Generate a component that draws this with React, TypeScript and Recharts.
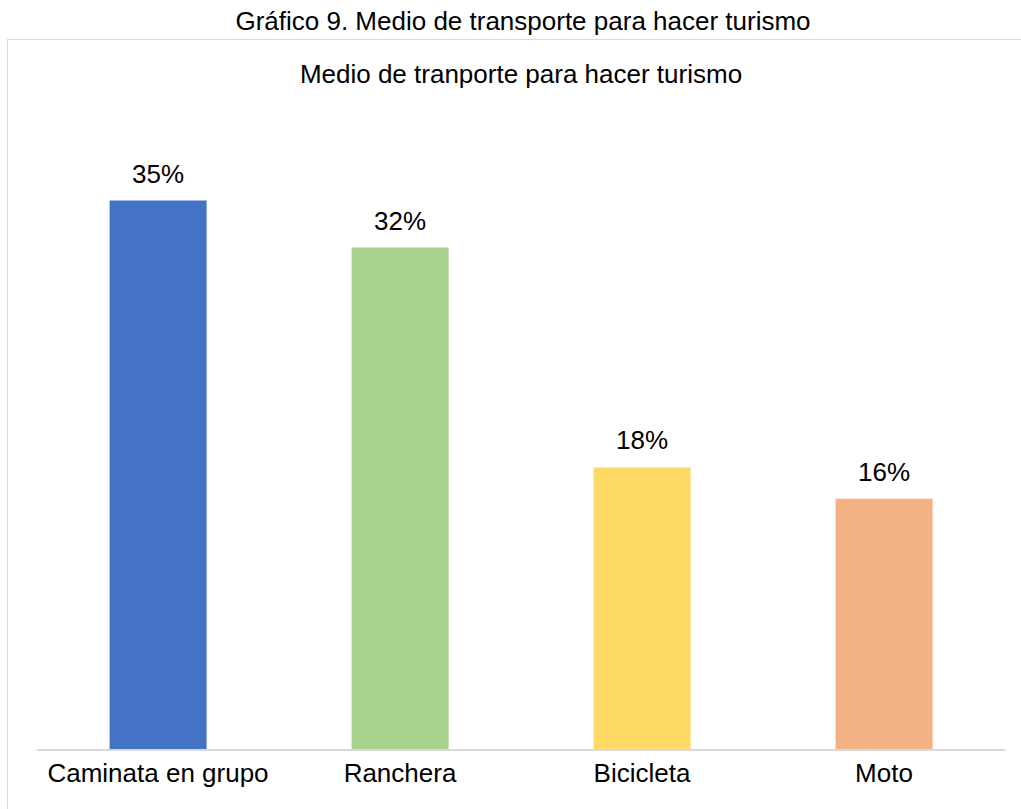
import { BarChart, Bar, XAxis, YAxis, Cell, LabelList } from "recharts"

const categories = ["Caminata en grupo", "Ranchera", "Bicicleta", "Moto"]
const percentages = [35, 32, 18, 16]
const barColors = ["#4472C4", "#A9D18E", "#FFD966", "#F4B183"]

const data = categories.map((name, i) => ({ name, value: percentages[i] }))

const font = "'Liberation Sans', Arial, sans-serif"

export default function App() {
  return (
    <div
      style={{
        position: "absolute",
        left: 0,
        top: 0,
        width: 1021,
        height: 809,
        overflow: "hidden",
        background: "#fff",
        fontFamily: font,
      }}
    >
      <div
        style={{
          position: "absolute",
          left: 0,
          top: 6,
          width: 1046,
          textAlign: "center",
          fontSize: 26,
          color: "#000",
        }}
      >
        Gráfico 9. Medio de transporte para hacer turismo
      </div>
      <div
        style={{
          position: "absolute",
          left: 7,
          top: 39,
          width: 1030,
          height: 800,
          border: "1.5px solid #d9d9d9",
          boxSizing: "border-box",
        }}
      />
      <div
        style={{
          position: "absolute",
          left: 0,
          top: 59,
          width: 1042,
          textAlign: "center",
          fontSize: 26,
          color: "#000",
        }}
      >
        Medio de tranporte para hacer turismo
      </div>
      <div style={{ position: "absolute", left: 0, top: 0 }}>
        <BarChart
          width={1021}
          height={809}
          data={data}
          margin={{ top: 122, right: 16, bottom: 0, left: 37 }}
          barCategoryGap="30%"
        >
          <XAxis
            dataKey="name"
            axisLine={{ stroke: "#d9d9d9", strokeWidth: 2 }}
            tickLine={false}
            tickSize={6}
            tickMargin={8}
            tick={{ fill: "#000", fontSize: 26, fontFamily: font }}
            height={59}
            interval={0}
          />
          <YAxis hide domain={[0, 40]} />
          <Bar dataKey="value" isAnimationActive={false}>
            {data.map((d, i) => (
              <Cell key={d.name} fill={barColors[i]} />
            ))}
            <LabelList
              dataKey="value"
              position="top"
              offset={18}
              formatter={(v: number) => `${v}%`}
              style={{ fill: "#000", fontSize: 26, fontFamily: font }}
            />
          </Bar>
        </BarChart>
      </div>
    </div>
  )
}
